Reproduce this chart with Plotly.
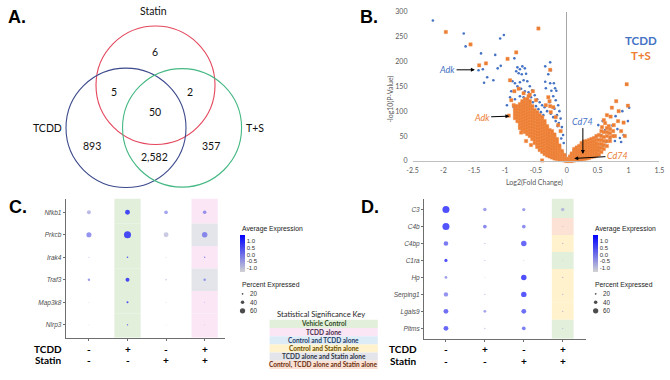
import plotly.graph_objects as go

W, H = 670, 380

# ---------------- Panel A: Venn ----------------
venn_set_labels = ["Statin", "TCDD", "T+S"]
venn_region_names = ["Statin only", "TCDD & Statin", "Statin & T+S", "All three",
                     "TCDD only", "TCDD & T+S", "T+S only"]
venn_counts = [6, 5, 2, 50, 893, 2582, 357]

# ---------------- Panel B: volcano ----------------
tcdd_log2fc = [
    -2.17, -1.67, -1.64, -1.08, -1.02, -1.39, -1.16, -1.43, -1.36, -1.29, -1.34, -1.19, -1.12, -1.07, -0.85,
    -0.80, -0.76, -0.72, -0.68, -0.82, -0.78, -0.73, -0.66, -0.88, -0.84, -0.80, -0.76, -0.70, -0.64, -0.60,
    -0.90, -0.74, -0.68, -0.62, -0.56, -0.52, -0.58, -0.48, -0.44, -0.40,
    -0.27, -0.35, -0.26, -0.30, -0.35, -0.27, -0.21, -0.19, -0.34, -0.25, -0.17, -0.22, -0.18, -0.28, -0.14,
    -0.20, -0.12, -0.16, -0.10, -0.13, -0.08, -0.11, -0.06, -0.09, -0.05, -0.36, -0.32, -0.26, -0.22, -0.18, -0.15,
    -0.50, -0.46, -0.42, -0.38, -0.55, -0.62, -0.66, -0.70, -0.76, -0.84, -0.92, -0.97, -0.86,
    1.01, 0.90, 0.99, 0.79, 0.82, 0.74, 0.58, 0.51, 0.62, 0.68, 0.55, 0.47, 0.42, 0.36, 0.30, 0.27,
    0.86, 0.78, 0.70, 0.64, 0.58, 0.52, 0.46, 0.40, 0.35, 0.92, 0.88]
tcdd_neglog10p = [
    282, 256, 230, 246, 253, 216, 213, 182, 184, 168, 157, 162, 186, 191, 206,
    188, 184, 190, 186, 180, 176, 174, 175, 160, 156, 150, 158, 162, 160, 150,
    140, 145, 140, 138, 142, 132, 128, 124, 118, 112,
    198, 190, 182, 174, 159, 156, 156, 146, 146, 141, 141, 130, 122, 118, 112,
    105, 100, 92, 85, 76, 68, 60, 52, 45, 36, 108, 100, 95, 88, 80, 70,
    110, 104, 98, 92, 118, 122, 118, 128, 130, 124, 128, 112, 108,
    107, 100, 80, 90, 64, 71, 80, 72, 62, 56, 52, 48, 40, 34, 28, 22,
    46, 40, 45, 38, 30, 24, 20, 16, 12, 52, 38]

ts_outlier_log2fc = [
    -1.96, -1.56, -0.46, -1.42, -1.31, -0.96, -0.82, -0.27, -0.92, -0.85, -0.78, -0.70, -0.60, -0.50,
    -0.90, -0.94, -0.86, -0.74, -0.66, -0.58, -0.40, -0.30, -0.28, -0.22, -0.34, -0.26, -0.18, -0.14,
    -0.10, -0.55, -0.62, -0.27,
    0.97, 0.80, 0.73, 0.99, 0.65, 0.92, 0.71, 0.83, 0.76, 0.68, 0.62, 0.57, 0.88, 0.78, 0.94, 0.60, 0.84]
ts_outlier_neglog10p = [
    259, 234, 266, 192, 196, 205, 218, 183, 162, 140, 145, 136, 133, 122,
    122, 91, 112, 57, 40, 32, 1, 128, 120, 108, 112, 98, 88, 72,
    60, 140, 130, 110,
    154, 120, 107, 111, 92, 77, 89, 80, 72, 70, 76, 68, 60, 50, 50, 82, 100]
# dense body of the T+S cloud, read column by column
ts_body_log2fc = [-0.84, -0.80, -0.76, -0.72, -0.68, -0.64, -0.60, -0.56, -0.52, -0.48, -0.44, -0.40,
                  -0.36, -0.32, -0.28, -0.24, -0.20, -0.16, -0.12, -0.08, -0.04, -0.01,
                  0.02, 0.05, 0.08, 0.12, 0.16, 0.20, 0.24, 0.28, 0.32, 0.36, 0.40, 0.44, 0.48,
                  0.52, 0.56, 0.60, 0.65, 0.70, 0.75]
ts_body_neglog10p = [
    [86, 92, 98, 104, 110],
    [80, 86, 92, 98, 104, 110],
    [66, 72, 78, 84, 90, 96, 102, 108, 114],
    [62, 68, 74, 80, 86, 92, 98, 104, 110, 116, 120],
    [58, 64, 70, 76, 82, 88, 94, 100, 106, 112, 118, 124],
    [54, 60, 66, 72, 78, 84, 90, 96, 102, 108, 114, 120, 124],
    [50, 56, 62, 68, 74, 80, 86, 92, 98, 104, 110, 116, 120],
    [44, 50, 56, 62, 68, 74, 80, 86, 92, 98, 104, 110],
    [36, 42, 48, 54, 60, 66, 72, 78, 84, 90, 96, 102],
    [28, 34, 40, 46, 52, 58, 64, 70, 76, 82, 88, 94, 98],
    [22, 28, 34, 40, 46, 52, 58, 64, 70, 76, 82, 88, 92],
    [18, 24, 30, 36, 42, 48, 54, 60, 66, 72, 78, 84, 88],
    [14, 20, 26, 32, 38, 44, 50, 56, 62, 68, 74, 80],
    [11, 17, 23, 29, 35, 41, 47, 53, 59, 65, 70],
    [9, 15, 21, 27, 33, 39, 45, 51, 57, 62],
    [7, 13, 19, 25, 31, 37, 43, 49, 55, 60],
    [5, 11, 17, 23, 29, 35, 41, 47, 53],
    [4, 9, 14, 19, 24, 29, 34, 39, 44],
    [3, 7, 11, 15, 19, 23, 27, 31],
    [2, 5, 8, 11, 14, 17, 20],
    [1, 3, 6, 9, 12],
    [0, 2, 4],
    [0, 2, 4],
    [0, 3, 6, 9],
    [0, 4, 8, 12, 15],
    [1, 5, 9, 13, 17, 21, 24],
    [2, 6, 10, 14, 18, 22, 27],
    [2, 7, 12, 17, 22, 27, 30],
    [3, 8, 13, 18, 23, 28, 33, 36],
    [4, 9, 14, 19, 24, 29, 34, 39],
    [5, 10, 15, 20, 25, 30, 35, 40],
    [6, 11, 16, 21, 26, 31, 36, 42],
    [8, 13, 18, 23, 28, 33, 38, 44],
    [9, 15, 21, 27, 33, 39, 46],
    [11, 17, 23, 29, 35, 42, 50],
    [13, 20, 27, 34, 42, 52],
    [18, 26, 34, 42, 50, 60],
    [24, 32, 40, 48, 58],
    [30, 40, 50, 58, 66],
    [40, 48, 56, 64],
    [50, 60]]
volcano_xticks = [-2.5, -2, -1.5, -1, -0.5, 0, 0.5, 1, 1.5]
volcano_yticks = [0, 50, 100, 150, 200, 250, 300]

assert len(tcdd_log2fc) == len(tcdd_neglog10p)
assert len(ts_outlier_log2fc) == len(ts_outlier_neglog10p)
assert len(ts_body_log2fc) == len(ts_body_neglog10p)

ts_log2fc = list(ts_outlier_log2fc)
ts_neglog10p = list(ts_outlier_neglog10p)
for xv, ys in zip(ts_body_log2fc, ts_body_neglog10p):
    for yv in ys:
        ts_log2fc.append(xv)
        ts_neglog10p.append(yv)

# ---------------- Panels C / D: dot plots ----------------
groups = ["Control", "TCDD", "Statin", "T+S"]
tcdd_signs = ["-", "+", "-", "+"]
statin_signs = ["-", "-", "+", "+"]

c_genes = ["Nfkb1", "Prkcb", "Irak4", "Traf3", "Map3k8", "Nlrp3"]
c_avg_expr = [[-0.6, 1.4, -0.2, 0.1],
              [0.1, 1.4, -0.9, 0.2],
              [-0.6, 1.2, -0.7, 0.3],
              [0.0, 1.4, -0.6, 0.0],
              [-0.6, 1.3, -0.7, -0.3],
              [-0.6, 1.3, -0.7, -0.5]]
c_pct_expr = [[45, 55, 42, 40],
              [58, 80, 55, 62],
              [12, 18, 10, 16],
              [27, 45, 15, 28],
              [9, 22, 9, 11],
              [8, 15, 8, 9]]
c_significance = [[None, "Vehicle Control", None, "TCDD alone"],
                  [None, "Vehicle Control", None, "TCDD alone and Statin alone"],
                  [None, "Vehicle Control", None, "TCDD alone"],
                  [None, "Vehicle Control", None, "TCDD alone and Statin alone"],
                  [None, "Vehicle Control", None, "TCDD alone"],
                  [None, "Vehicle Control", None, "TCDD alone"]]

d_genes = ["C3", "C4b", "C4bp", "C1ra", "Hp", "Serping1", "Lgals9", "Pltms"]
d_avg_expr = [[1.4, -0.1, -0.1, -0.7],
              [1.3, 0.3, 0.2, -0.8],
              [0.6, -0.7, 0.9, -0.6],
              [1.4, -0.5, -0.6, -0.7],
              [-0.1, -0.8, 1.4, -0.5],
              [0.1, -0.6, 1.2, -0.6],
              [0.8, -0.2, 0.8, -0.6],
              [0.9, -0.5, 0.5, -0.6]]
d_pct_expr = [[80, 40, 38, 40],
              [80, 42, 42, 12],
              [52, 14, 62, 14],
              [36, 12, 10, 8],
              [32, 10, 62, 14],
              [50, 14, 62, 14],
              [55, 32, 55, 16],
              [55, 14, 42, 14]]
d_significance = [[None, None, None, "Vehicle Control"],
                  [None, None, None, "Control, TCDD alone and Statin alone"],
                  [None, None, None, "Control and Statin alone"],
                  [None, None, None, "Vehicle Control"],
                  [None, None, None, "Control and Statin alone"],
                  [None, None, None, "Control and Statin alone"],
                  [None, None, None, "Control and Statin alone"],
                  [None, None, None, "Vehicle Control"]]

legend_pcts = [20, 40, 60]
colorbar_ticks = [1.0, 0.5, 0.0, -0.5, -1.0]

key_labels = ["Vehicle Control", "TCDD alone", "Control and TCDD alone",
              "Control and Statin alone", "TCDD alone and Statin alone",
              "Control, TCDD alone and Statin alone"]
key_fills = ["#e2efda", "#fbe6f6", "#ddebf7", "#fff2cc", "#e3e5ea", "#fbe2d5"]
key_text_colors = ["#2f4a22", "#4a2a4a", "#1f3f66", "#6b4f00", "#2f3545", "#6b2f10"]
sig_fill = dict(zip(key_labels, key_fills))

# ---------------- helpers ----------------
def px(x):
    return x / W

def py(y):
    return 1 - y / H

SIZE_K = 0.088  # px diameter per percent

def dot_size(p):
    return max(p * SIZE_K, 0.6)

fig = go.Figure()
shapes = []
ann = []

def text(x, y, s, size, color="#111", family="Lato", xanchor="center", yanchor="middle", **kw):
    font = dict(family=family, size=size, color=color)
    for k in ("weight", "style"):
        if k in kw:
            font[k] = kw.pop(k)
    ann.append(dict(x=px(x), y=py(y), xref="paper", yref="paper", text=s, showarrow=False,
                    xanchor=xanchor, yanchor=yanchor, font=font, **kw))

# ---------- Panel A ----------
circles = [(152, 82, 60.5, "#e4465c"), (122, 125.5, 61, "#3c4a8c"), (179, 125.5, 60.5, "#45b883")]
for cx, cy, r, col in circles:
    shapes.append(dict(type="circle", xref="paper", yref="paper",
                       x0=px(cx - r), x1=px(cx + r), y0=py(cy + r), y1=py(cy - r),
                       line=dict(color=col, width=1.1)))
venn_label_pos = [(150, 6), (42, 126), (253, 126)]
for lab, (x, y) in zip(venn_set_labels, venn_label_pos):
    text(x, y, lab, 10.5)
venn_count_pos = [(151, 48), (110, 89), (187, 89), (151, 109), (87, 144), (151, 155), (208, 144)]
for v, (x, y) in zip(venn_counts, venn_count_pos):
    text(x, y, f"{v:,}", 10.5)

# panel letters
for lab, (x, y) in zip(["A.", "B.", "C.", "D."], [(11, 12), (369, 12), (12, 206), (370, 206)]):
    text(x, y, lab, 18, color="#000", family="Liberation Sans", weight="bold")

# ---------- Panel B ----------
fig.add_trace(go.Scatter(x=tcdd_log2fc, y=tcdd_neglog10p, mode="markers", xaxis="x", yaxis="y",
                         marker=dict(color="#4472c4", size=2.6, symbol="circle", line=dict(width=0)),
                         cliponaxis=False, showlegend=False, name="TCDD"))
fig.add_trace(go.Scatter(x=ts_log2fc, y=ts_neglog10p, mode="markers", xaxis="x", yaxis="y",
                         marker=dict(color="#ed7d31", size=3.4, symbol="square",
                                     line=dict(width=0.6, color="rgba(240,150,90,0.6)")),
                         cliponaxis=False, showlegend=False, name="T+S"))

vx0, vx1, vy0, vy1 = 413.3, 664.3, 159.3, 6.7
fig.update_layout(
    xaxis=dict(domain=[px(vx0), px(vx1)], range=[-2.5, 1.5], anchor="y",
               tickvals=volcano_xticks, ticktext=[f"{t:g}" for t in volcano_xticks],
               tickfont=dict(family="Lato", size=7, color="#595959"), ticks="", ticklabelstandoff=3,
               showline=True, linecolor="#bfbfbf", linewidth=1, showgrid=False,
               zeroline=True, zerolinecolor="#a6a6a6", zerolinewidth=1),
    yaxis=dict(domain=[py(vy0), py(vy1)], range=[0, 300], anchor="x",
               tickvals=volcano_yticks, tickfont=dict(family="Lato", size=7, color="#595959"),
               ticks="", ticklabelstandoff=4, showline=False, showgrid=False, zeroline=False),
)
text(537, 181, "Log2(Fold Change)", 7, color="#595959")
text(391, 96, "-log10(P-Value)", 7, color="#595959", textangle=-90)
text(646, 36, "TCDD", 11.5, color="#4472c4", weight="bold")
text(646, 52, "T+S", 11.5, color="#ed7d31", weight="bold")
arrow_common = dict(xref="x", yref="y", axref="x", ayref="y", showarrow=True, arrowhead=2,
                    arrowsize=0.8, arrowwidth=1, arrowcolor="#000", xanchor="center", yanchor="middle")
ann.append(dict(x=-1.49, y=183, ax=-1.94, ay=183, text="<i>Adk</i>",
                font=dict(family="Lato", size=9, color="#4472c4"), **arrow_common))
ann.append(dict(x=-0.93, y=90, ax=-1.38, ay=88, text="<i>Adk</i>",
                font=dict(family="Lato", size=9, color="#ed7d31"), **arrow_common))
ann.append(dict(x=0.26, y=14, ax=0.26, ay=80, text="<i>Cd74</i>",
                font=dict(family="Lato", size=9, color="#4472c4"), **arrow_common))
ann.append(dict(x=0.12, y=5, ax=0.82, ay=10, text="<i>Cd74</i>",
                font=dict(family="Lato", size=9, color="#ed7d31"), **arrow_common))

# ---------- dot plots ----------
def add_dotplot(xa, ya, genes, avg, pct, sig, coloraxis, half_w, yr):
    xs, ys, cs, ss = [], [], [], []
    for r, g in enumerate(genes):
        for c in range(len(groups)):
            xs.append(c + 1)
            ys.append(r + 1)
            cs.append(avg[r][c])
            ss.append(dot_size(pct[r][c]))
            cat = sig[r][c]
            if cat is not None:
                y0 = r + 0.5 if r > 0 else yr[1]
                y1 = r + 1.5 if r < len(genes) - 1 else yr[0]
                shapes.append(dict(type="rect", xref=xa, yref=ya, x0=c + 1 - half_w, x1=c + 1 + half_w,
                                   y0=y0, y1=y1, fillcolor=sig_fill[cat], line=dict(width=0),
                                   layer="below"))
    fig.add_trace(go.Scatter(x=xs, y=ys, mode="markers", xaxis=xa, yaxis=ya, showlegend=False,
                             marker=dict(color=cs, coloraxis=coloraxis, size=ss, sizemode="diameter",
                                         line=dict(width=0)), cliponaxis=False))

c_yr = [6.58, 0.39]
d_yr = [8.62, 0.35]
add_dotplot("x2", "y2", c_genes, c_avg_expr, c_pct_expr, c_significance, "coloraxis", 0.34, c_yr)
add_dotplot("x3", "y3", d_genes, d_avg_expr, d_pct_expr, d_significance, "coloraxis2", 0.28, d_yr)

axis_line = dict(showline=True, linecolor="#6e6e6e", linewidth=1, showgrid=False, zeroline=False,
                 ticks="outside", ticklen=2, tickcolor="#6e6e6e", tickwidth=1)
fig.update_layout(
    xaxis2=dict(domain=[px(60.7), px(223)], range=[0.398, 4.536], anchor="y2",
                tickvals=[1, 2, 3, 4], showticklabels=False, **axis_line),
    yaxis2=dict(domain=[py(340), py(197.7)], range=c_yr, anchor="x2",
                tickvals=list(range(1, len(c_genes) + 1)), ticktext=c_genes,
                tickfont=dict(family="Liberation Sans", size=6.5, color="#4d4d4d", style="italic"),
                **axis_line),
    xaxis3=dict(domain=[px(425), px(590)], range=[0.437, 4.606], anchor="y3",
                tickvals=[1, 2, 3, 4], showticklabels=False, **axis_line),
    yaxis3=dict(domain=[py(341), py(197.7)], range=d_yr, anchor="x3",
                tickvals=list(range(1, len(d_genes) + 1)), ticktext=d_genes,
                tickfont=dict(family="Liberation Sans", size=6.5, color="#4d4d4d", style="italic"),
                **axis_line),
)

cb_common = dict(len=37, lenmode="pixels", thickness=5, thicknessmode="pixels",
                 xanchor="left", yanchor="top", xpad=0, ypad=0, outlinewidth=0, ticks="",
                 tickvals=colorbar_ticks, ticktext=[f"{t:.1f}" for t in colorbar_ticks],
                 tickfont=dict(family="Liberation Sans", size=6, color="#333"))
scale = [[0, "#d3d3d3"], [1, "#0000ff"]]
fig.update_layout(
    coloraxis=dict(colorscale=scale, cmin=-1.3, cmax=1.45,
                   colorbar=dict(x=px(238), y=py(235), **cb_common)),
    coloraxis2=dict(colorscale=scale, cmin=-1.3, cmax=1.45,
                    colorbar=dict(x=px(597), y=py(235), **cb_common)),
)

# bottom group labels
for xa, xl, yt, ys_ in [("x2", 43, 351, 363), ("x3", 404, 351, 364)]:
    text(xl, yt, "TCDD", 10, color="#000", weight="bold")
    text(xl, ys_, "Statin", 10, color="#000", weight="bold")
    for i, g in enumerate(groups):
        for sgn, yy in ((tcdd_signs[i], yt), (statin_signs[i], ys_)):
            ann.append(dict(x=i + 1, y=py(yy), xref=xa, yref="paper", text=sgn, showarrow=False,
                            xanchor="center", yanchor="middle",
                            font=dict(family="Lato", size=10, color="#000", weight="bold")))

# legends (colorbar titles + size legends) on an overlay pixel axis
leg_x, leg_y, leg_t = [], [], []
for lx in (238, 597):
    text(lx, 229, "Average Expression", 6.8, color="#222", family="Liberation Sans", xanchor="left")
    text(lx, 286, "Percent Expressed", 6.8, color="#222", family="Liberation Sans", xanchor="left")
    for k, p in enumerate(legend_pcts):
        yy = 295 + k * 8.7
        leg_x.append(lx + 2.5)
        leg_y.append(yy)
        leg_t.append(p)
        text(lx + 8, yy, str(p), 6.3, color="#333", family="Liberation Sans", xanchor="left")
fig.add_trace(go.Scatter(x=leg_x, y=leg_y, mode="markers", xaxis="x4", yaxis="y4", showlegend=False,
                         marker=dict(color="#000", size=[dot_size(p) for p in leg_t], line=dict(width=0))))
fig.update_layout(
    xaxis4=dict(domain=[0, 1], range=[0, W], visible=False, anchor="y4"),
    yaxis4=dict(domain=[0, 1], range=[H, 0], visible=False, anchor="x4"),
)

# significance key
text(320, 316, "Statistical Significance Key", 7.6, color="#222")
row_h = 8.4
for i, (lab, fc, tc) in enumerate(zip(key_labels, key_fills, key_text_colors)):
    top = 321.5 + i * row_h
    shapes.append(dict(type="rect", xref="paper", yref="paper", x0=px(268), x1=px(378),
                       y0=py(top + row_h), y1=py(top), fillcolor=fc, line=dict(width=0), layer="below"))
    text(323, top + row_h / 2, lab, 6.5, color=tc, weight="bold")

fig.update_layout(width=W, height=H, margin=dict(l=0, r=0, t=0, b=0),
                  paper_bgcolor="white", plot_bgcolor="rgba(0,0,0,0)",
                  shapes=shapes, annotations=ann, showlegend=False)

# remove the default page margin so the figure sits at the window's top-left corner
fig.write_html("out.html", config={"displayModeBar": False},
               post_script="document.body.style.margin='0';document.body.style.overflow='hidden';")
